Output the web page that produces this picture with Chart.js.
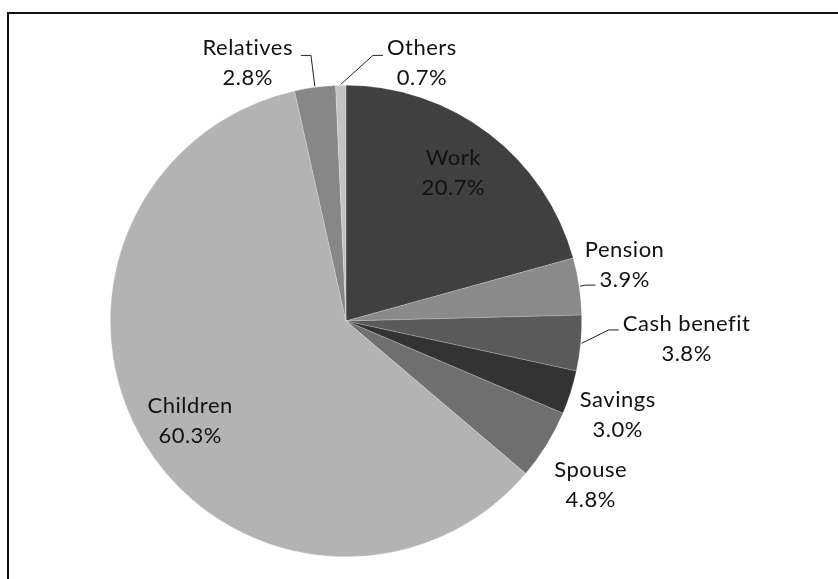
<!DOCTYPE html>
<html lang="en">
<head>
  <meta charset="UTF-8">
  <title>Income sources</title>
  <script src="https://cdn.jsdelivr.net/npm/chart.js"></script>
  <style>
    * { box-sizing: border-box; margin: 0; padding: 0; }
    body { width: 838px; height: 579px; background: #fff; overflow: hidden; position: relative; }
    .frame {
      position: absolute; left: 7px; top: 12px; right: 0; bottom: 0;
      border-top: 2px solid #111; border-left: 2px solid #111;
    }
    #chart { position: absolute; left: 0; top: 0; }
  </style>
</head>
<body>
  <div class="frame"></div>
  <canvas id="chart" width="838" height="579"></canvas>
  <script>
    const labels = ['Work', 'Pension', 'Cash benefit', 'Savings', 'Spouse', 'Children', 'Relatives', 'Others'];
    const shares = [20.7, 3.9, 3.8, 3.0, 4.8, 60.3, 2.8, 0.7];
    const colors = ['#404040', '#8a8a8a', '#5a5a5a', '#333333', '#6f6f6f', '#b3b3b3', '#878787', '#c4c4c4'];

    // label block centres, in units of the pie radius from its centre
    const labelSpots = [
      [0.455, -0.627], [1.182, -0.237], [1.445, 0.076], [1.153, 0.398],
      [1.038, 0.695], [-0.661, 0.424], [-0.417, -1.093], [0.322, -1.093]
    ];
    // leader lines: which text line, side of text, vertical shift
    const leaders = {
      1: { line: 1, side: 'left', dy: 5 },
      2: { line: 0, side: 'left', dy: 6 },
      6: { line: 0, side: 'right', dy: 7, gap: 8 },
      7: { line: 0, side: 'left', dy: 7 }
    };

    const FONT = '22px Lato, "Open Sans", sans-serif';
    const LINE_H = 30;

    const pieLabels = {
      id: 'pieLabels',
      afterDatasetsDraw(chart) {
        const ctx = chart.ctx;
        const arcs = chart.getDatasetMeta(0).data;
        ctx.save();
        ctx.font = FONT;
        ctx.letterSpacing = '0.5px'; // also stops the fi / ti ligatures
        ctx.fillStyle = '#111';
        ctx.textAlign = 'center';
        ctx.textBaseline = 'middle';
        arcs.forEach((arc, i) => {
          const R = arc.outerRadius;
          const cx = arc.x + labelSpots[i][0] * R;
          const cy = arc.y + labelSpots[i][1] * R;
          const lines = [labels[i], shares[i].toFixed(1) + '%'];
          lines.forEach((t, k) => ctx.fillText(t, cx, cy + (k - 0.5) * LINE_H));

          const ld = leaders[i];
          if (ld) {
            const w = ctx.measureText(lines[ld.line]).width;
            const gap = ld.gap || 4;
            const y = cy + (ld.line - 0.5) * LINE_H + ld.dy;
            const endX = ld.side === 'left' ? cx - w / 2 - gap : cx + w / 2 + gap;
            const elbowX = ld.side === 'left' ? endX - 10 : endX + 10;
            const mid = (arc.startAngle + arc.endAngle) / 2;
            const sx = arc.x + Math.cos(mid) * (R + 1);
            const sy = arc.y + Math.sin(mid) * (R + 1);
            ctx.beginPath();
            ctx.strokeStyle = '#222';
            ctx.lineWidth = 1;
            ctx.moveTo(sx, sy);
            ctx.lineTo(elbowX, y);
            ctx.lineTo(endX, y);
            ctx.stroke();
          }
        });
        ctx.restore();
      }
    };

    new Chart(document.getElementById('chart'), {
      type: 'pie',
      data: {
        labels: labels,
        datasets: [{
          data: shares,
          backgroundColor: colors,
          borderColor: 'rgba(255,255,255,0.35)',
          borderWidth: 0.6,
          hoverOffset: 0
        }]
      },
      options: {
        responsive: false,
        animation: false,
        rotation: 0,
        layout: { padding: { top: 85, bottom: 22, left: 110, right: 256 } },
        plugins: { legend: { display: false }, tooltip: { enabled: false } }
      },
      plugins: [pieLabels]
    });
  </script>
</body>
</html>
